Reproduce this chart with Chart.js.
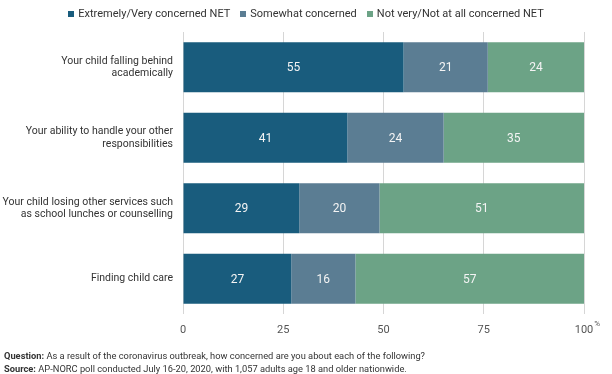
<!DOCTYPE html>
<html>
<head>
<meta charset="utf-8">
<script src="https://cdn.jsdelivr.net/npm/chart.js@4"></script>
<style>
  html, body { margin: 0; padding: 0; background: #fff; }
  body { width: 612px; height: 374px; position: relative; overflow: hidden;
         font-family: Roboto, sans-serif; color: #333; }
  #wrap { position: absolute; left: 0; top: 0; width: 612px; height: 374px; }
  #legend { position: absolute; top: 6px; left: 0; width: 612px; text-align: center;
            font-size: 11px; line-height: 15px; color: #333; white-space: nowrap; }
  #legend span.item { margin: 0 5px; }
  #legend span.box { display: inline-block; width: 6px; height: 6px; margin-right: 4px; }
  #notes { position: absolute; left: 4px; top: 349px; font-size: 9.3px; line-height: 13px; color: #333; }
</style>
</head>
<body>
<div id="wrap"><canvas id="chart" width="612" height="374"></canvas></div>
<div id="legend"></div>
<div id="notes">
  <div><b>Question:</b> As a result of the coronavirus outbreak, how concerned are you about each of the following?</div>
  <div><b>Source:</b> AP-NORC poll conducted July 16-20, 2020, with 1,057 adults age 18 and older nationwide.</div>
</div>
<script>
const categories = [
    ['Your child falling behind', 'academically'],
    ['Your ability to handle your other', 'responsibilities'],
    ['Your child losing other services such', 'as school lunches or counselling'],
    'Finding child care'
];
const seriesNames = ['Extremely/Very concerned NET', 'Somewhat concerned', 'Not very/Not at all concerned NET'];
const extremelyVery = [55, 41, 29, 27];
const somewhat = [21, 24, 20, 16];
const notVery = [24, 35, 51, 57];
const tickValues = [0, 25, 50, 75, 100];
const colors = ['#195c7d', '#5b7d93', '#6ca386'];

const FONT = 'Roboto, sans-serif';

const valueLabels = {
    id: 'valueLabels',
    afterDatasetsDraw(chart) {
        const ctx = chart.ctx;
        ctx.save();
        ctx.font = '12px ' + FONT;
        ctx.fillStyle = '#f4f4f4';
        ctx.textAlign = 'center';
        ctx.textBaseline = 'middle';
        chart.data.datasets.forEach((ds, i) => {
            chart.getDatasetMeta(i).data.forEach((bar, j) => {
                const x = (bar.x + bar.base) / 2;
                ctx.fillText(ds.data[j], x, bar.y + 1);
            });
        });
        ctx.restore();
    }
};

// little superscript % after the last tick
const percentSign = {
    id: 'percentSign',
    afterDraw(chart) {
        const scale = chart.scales.x;
        const ctx = chart.ctx;
        ctx.save();
        ctx.font = '11px ' + FONT;
        const w = ctx.measureText('100').width;
        ctx.font = '8px ' + FONT;
        ctx.fillStyle = '#555';
        ctx.textBaseline = 'middle';
        ctx.fillText('%', scale.getPixelForValue(100) + w / 2 + 1, 324);
        ctx.restore();
    }
};

const datasets = [extremelyVery, somewhat, notVery].map((data, i) => ({
    label: seriesNames[i],
    data: data,
    backgroundColor: colors[i],
    borderWidth: 0,
    categoryPercentage: 1,
    barPercentage: 0.71
}));

document.getElementById('legend').innerHTML = seriesNames.map((n, i) =>
    '<span class="item"><span class="box" style="background:' + colors[i] + '"></span>' + n + '</span>'
).join('');

new Chart(document.getElementById('chart'), {
    type: 'bar',
    data: { labels: categories, datasets: datasets },
    options: {
        indexAxis: 'y',
        responsive: false,
        animation: false,
        layout: { padding: { top: 32, right: 28, left: 0, bottom: 0 } },
        plugins: {
            legend: { display: false },
            tooltip: { enabled: false }
        },
        scales: {
            x: {
                stacked: true,
                min: 0,
                max: 100,
                afterBuildTicks(scale) { scale.ticks = tickValues.map(v => ({ value: v })); },
                afterFit(scale) { scale.height = 60; },
                grid: { color: '#d6d6d6', drawTicks: false, lineWidth: 1 },
                border: { display: false },
                ticks: {
                    padding: 10,
                    color: '#555',
                    font: { family: FONT, size: 11 }
                }
            },
            y: {
                stacked: true,
                afterFit(scale) { scale.width = 183; },
                grid: { display: false, drawTicks: false },
                border: { display: false },
                ticks: {
                    padding: 10,
                    color: '#333',
                    font: { family: FONT, size: 10.5 }
                }
            }
        }
    },
    plugins: [valueLabels, percentSign]
});
</script>
</body>
</html>
